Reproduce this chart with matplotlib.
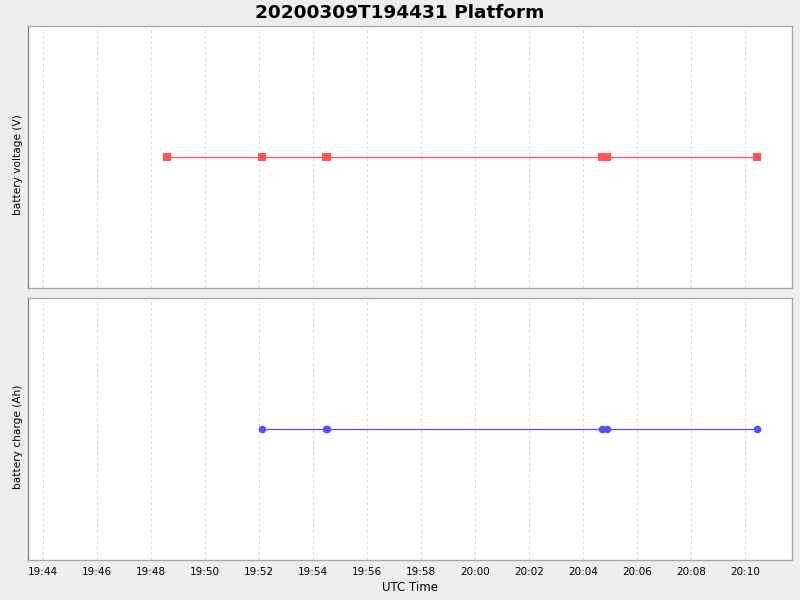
import matplotlib

matplotlib.use("Agg")
import matplotlib.dates as mdates
import matplotlib.pyplot as plt
import pandas as pd

TITLE = "20200309T194431 Platform"

VOLT_TIMES = [
    "2020-03-09 19:48:35", "2020-03-09 19:52:06", "2020-03-09 19:54:28",
    "2020-03-09 19:54:31", "2020-03-09 20:04:43", "2020-03-09 20:04:52",
    "2020-03-09 20:10:27",
]
VOLT_VALUES = [12.0, 12.0, 12.0, 12.0, 12.0, 12.0, 12.0]

CHARGE_TIMES = [
    "2020-03-09 19:52:06", "2020-03-09 19:54:28", "2020-03-09 19:54:31",
    "2020-03-09 20:04:43", "2020-03-09 20:04:52", "2020-03-09 20:10:27",
]
CHARGE_VALUES = [100.0, 100.0, 100.0, 100.0, 100.0, 100.0]

X_START = "2020-03-09 19:43:27"
X_END = "2020-03-09 20:11:44"

BG = "#EEEEEE"
RED = "#FF5555"
BLUE = "#5555FF"
GRID = "#DCDCDC"
EDGE = "#A8A8A8"


def style(ax, ylabel):
    ax.set_facecolor("white")
    for s in ax.spines.values():
        s.set_color(EDGE)
        s.set_linewidth(1)
    ax.spines["left"].set_color("#808080")
    ax.set_xlim(pd.Timestamp(X_START), pd.Timestamp(X_END))
    ax.xaxis.set_major_locator(mdates.MinuteLocator(byminute=range(0, 60, 2)))
    ax.xaxis.set_major_formatter(mdates.DateFormatter("%H:%M"))
    ax.grid(axis="x", color=GRID, linestyle=(0, (2.5, 2.5)), linewidth=0.8)
    ax.set_axisbelow(True)
    ax.set_yticks([])
    ax.tick_params(axis="x", length=0, labelsize=7.5, pad=5)
    ax.set_ylabel(ylabel, fontsize=7.6)
    ax.yaxis.set_label_coords(-0.006, 0.47)


fig = plt.figure(figsize=(8, 6), dpi=100, facecolor=BG)
ax1 = fig.add_axes([0.035, 0.52, 0.955, 0.4367])
ax2 = fig.add_axes([0.035, 0.0667, 0.955, 0.4367])

vt = pd.to_datetime(VOLT_TIMES)
ax1.plot(vt, VOLT_VALUES, color=RED, lw=0.9, marker="s", ms=5.5,
         markeredgewidth=0)
v = VOLT_VALUES[0]
ax1.set_ylim(v - 1, v + 1)
style(ax1, "battery voltage (V)")
ax1.tick_params(axis="x", labelbottom=False)

ct = pd.to_datetime(CHARGE_TIMES)
ax2.plot(ct, CHARGE_VALUES, color=BLUE, lw=0.9, marker="o", ms=5.5,
         markeredgewidth=0)
c = CHARGE_VALUES[0]
ax2.set_ylim(c - 1, c + 1)
style(ax2, "battery charge (Ah)")
ax2.set_xlabel("UTC Time", fontsize=8.5, labelpad=3)

fig.text(0.5, 0.979, TITLE, ha="center", va="center", fontsize=13.3,
         fontweight="bold")

fig.savefig("out.png", dpi=100, facecolor=BG)
